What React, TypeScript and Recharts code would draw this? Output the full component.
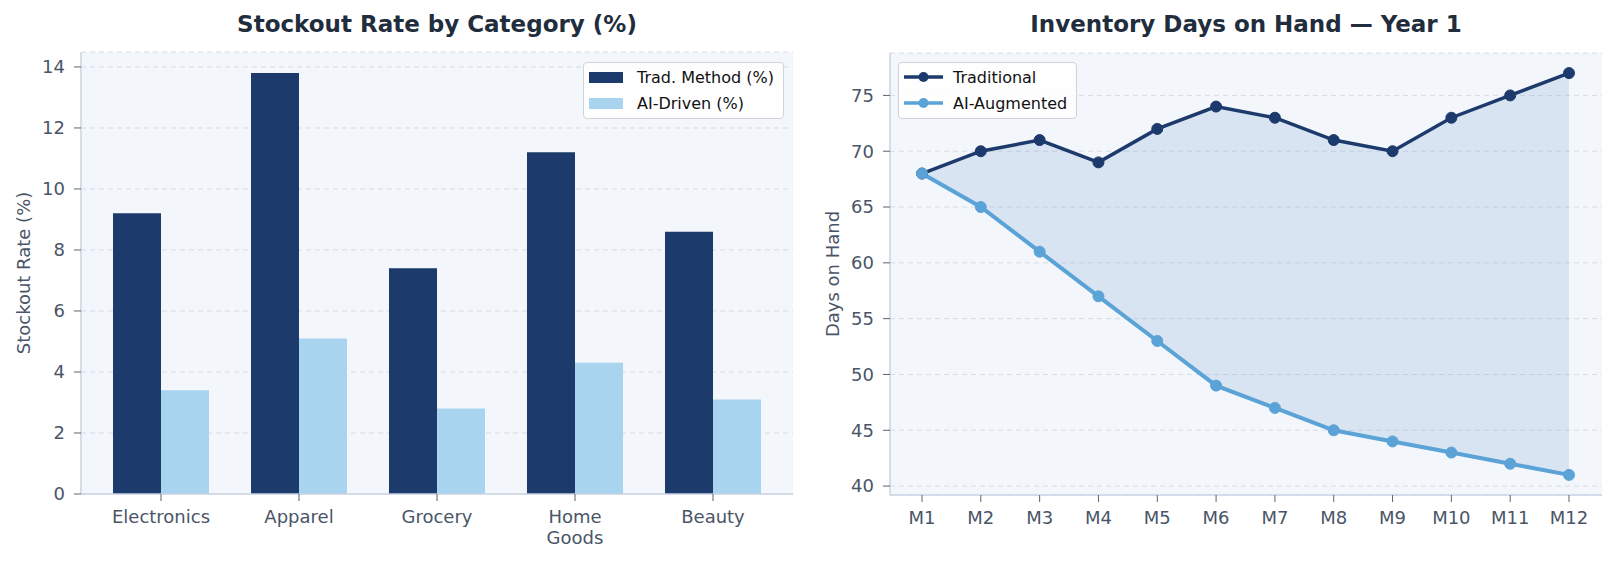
import React from "react";
import {
  Area,
  Bar,
  CartesianGrid,
  ComposedChart,
  Legend,
  Line,
  XAxis,
  YAxis,
} from "recharts";

// ---- data ----
const categories = ["Electronics", "Apparel", "Grocery", "Home\nGoods", "Beauty"];
const tradStockout = [9.2, 13.8, 7.4, 11.2, 8.6];
const aiStockout = [3.4, 5.1, 2.8, 4.3, 3.1];
const stockoutTicks = [0, 2, 4, 6, 8, 10, 12, 14];
const barSeriesNames = ["Trad. Method (%)", "AI-Driven (%)"];

const months = ["M1", "M2", "M3", "M4", "M5", "M6", "M7", "M8", "M9", "M10", "M11", "M12"];
const tradDays = [68, 70, 71, 69, 72, 74, 73, 71, 70, 73, 75, 77];
const aiDays = [68, 65, 61, 57, 53, 49, 47, 45, 44, 43, 42, 41];
const daysTicks = [40, 45, 50, 55, 60, 65, 70, 75];
const lineSeriesNames = ["Traditional", "AI-Augmented"];

const stockoutData = categories.map((category, i) => ({
  category,
  trad: tradStockout[i],
  ai: aiStockout[i],
}));

const daysData = months.map((month, i) => ({
  month,
  trad: tradDays[i],
  ai: aiDays[i],
  gap: [aiDays[i], tradDays[i]],
}));

const navy = "#1c3a6b";
const lightBar = "#a9d4ef";
const skyLine = "#5ba3d6";
const plotBg = "#f3f6fb";
const gridColor = "#d6dce6";
const spineColor = "#cbd3e3";
const tickText = "#4a5568";
const titleColor = "#1f2d3d";
const font = "'DejaVu Sans', sans-serif";

const tickStyle = { fontSize: 18, fill: tickText, fontFamily: font };

function CategoryTick(props: any) {
  const { x, y, payload } = props;
  const lines = String(payload.value).split("\n");
  return (
    <text x={x} y={y} textAnchor="middle" fill={tickText} fontSize={18} fontFamily={font}>
      {lines.map((line, i) => (
        <tspan key={i} x={x} dy={i === 0 ? "0.71em" : "1.17em"}>
          {line}
        </tspan>
      ))}
    </text>
  );
}

function yLabel(text: string) {
  return {
    content: (p: any) => {
      const vb = p.viewBox;
      const cx = vb.x + 18;
      const cy = vb.y + vb.height / 2;
      return (
        <text
          x={cx}
          y={cy}
          transform={`rotate(-90, ${cx}, ${cy})`}
          textAnchor="middle"
          dominantBaseline="central"
          fill={tickText}
          fontSize={18}
          fontFamily={font}
        >
          {text}
        </text>
      );
    },
  };
}

const legendBox: React.CSSProperties = {
  background: "rgba(255,255,255,0.85)",
  border: "1px solid #d0d4da",
  borderRadius: 4,
  padding: "1px 8px 2px 5px",
  fontFamily: font,
  fontSize: 16,
  color: "#111",
  boxSizing: "border-box",
};

// keep legend entries in the series order, not alphabetical
function ordered(payload: any[] | undefined, names: string[]) {
  return (payload || [])
    .filter((p: any) => p.type !== "none")
    .sort((a: any, b: any) => names.indexOf(a.value) - names.indexOf(b.value));
}

function BarLegend(props: any) {
  const items = ordered(props.payload, barSeriesNames);
  return (
    <div style={legendBox}>
      {items.map((p: any) => (
        <div key={p.value} style={{ display: "flex", alignItems: "center", height: 26 }}>
          <span style={{ width: 34, height: 11, background: p.color, marginRight: 14 }} />
          <span>{p.value}</span>
        </div>
      ))}
    </div>
  );
}

function LineLegend(props: any) {
  const items = ordered(props.payload, lineSeriesNames);
  return (
    <div style={legendBox}>
      {items.map((p: any) => (
        <div key={p.value} style={{ display: "flex", alignItems: "center", height: 26 }}>
          <svg width={39} height={12} style={{ marginRight: 10 }}>
            <line x1={0} y1={6} x2={39} y2={6} stroke={p.color} strokeWidth={3.5} />
            <circle cx={19.5} cy={6} r={5} fill={p.color} />
          </svg>
          <span>{p.value}</span>
        </div>
      ))}
    </div>
  );
}

const titleStyle: React.CSSProperties = {
  position: "absolute",
  top: 13,
  width: 712,
  textAlign: "center",
  fontFamily: font,
  fontWeight: "bold",
  fontSize: 23,
  lineHeight: "23px",
  color: titleColor,
};

export default function App() {
  return (
    <div
      style={{
        position: "fixed",
        left: 0,
        top: 0,
        width: 1617,
        height: 566,
        background: "#fff",
        overflow: "hidden",
      }}
    >
      <div style={{ ...titleStyle, left: 81 }}>Stockout Rate by Category (%)</div>
      <div style={{ ...titleStyle, left: 890 }}>Inventory Days on Hand — Year 1</div>

      <div style={{ position: "absolute", left: 0, top: 0 }}>
        <ComposedChart
          width={800}
          height={566}
          data={stockoutData}
          margin={{ top: 52, right: 7, bottom: 12, left: 5 }}
          barCategoryGap={21}
          barGap={0}
        >
          <CartesianGrid vertical={false} stroke={gridColor} strokeDasharray="5 4" fill={plotBg} />
          <XAxis
            dataKey="category"
            height={60}
            padding={{ left: 11, right: 11 }}
            tick={<CategoryTick />}
            tickSize={7}
            tickMargin={9}
            interval={0}
            axisLine={{ stroke: spineColor, strokeWidth: 1.5 }}
            tickLine={{ stroke: "#5a6472" }}
          />
          <YAxis
            width={76}
            domain={[0, 14.49]}
            ticks={stockoutTicks}
            tick={tickStyle}
            tickSize={7}
            tickMargin={9}
            axisLine={{ stroke: spineColor, strokeWidth: 1.5 }}
            tickLine={{ stroke: "#5a6472" }}
            label={yLabel("Stockout Rate (%)")}
          />
          <Legend
            layout="horizontal"
            verticalAlign="middle"
            align="center"
            content={<BarLegend />}
            wrapperStyle={{ left: 583, top: 62, width: 201, height: 57 }}
          />
          <Bar dataKey="trad" name={barSeriesNames[0]} fill={navy} isAnimationActive={false} />
          <Bar dataKey="ai" name={barSeriesNames[1]} fill={lightBar} isAnimationActive={false} />
        </ComposedChart>
      </div>

      <div style={{ position: "absolute", left: 810, top: 0 }}>
        <ComposedChart
          width={807}
          height={566}
          data={daysData}
          margin={{ top: 53, right: 15, bottom: 11, left: 4 }}
        >
          <CartesianGrid vertical={false} stroke={gridColor} strokeDasharray="5 4" fill={plotBg} />
          <XAxis
            dataKey="month"
            scale="point"
            height={60}
            padding={{ left: 32, right: 33 }}
            tick={tickStyle}
            tickSize={7}
            tickMargin={9}
            interval={0}
            axisLine={{ stroke: spineColor, strokeWidth: 1.5 }}
            tickLine={{ stroke: "#5a6472" }}
          />
          <YAxis
            width={76}
            domain={[39.2, 78.8]}
            ticks={daysTicks}
            tick={tickStyle}
            tickSize={7}
            tickMargin={9}
            axisLine={{ stroke: spineColor, strokeWidth: 1.5 }}
            tickLine={{ stroke: "#5a6472" }}
            label={yLabel("Days on Hand")}
          />
          <Legend
            layout="horizontal"
            verticalAlign="middle"
            align="center"
            content={<LineLegend />}
            wrapperStyle={{ left: 88, top: 62, width: 179, height: 57 }}
          />
          <Area
            dataKey="gap"
            type="linear"
            fill="#5b8fd0"
            fillOpacity={0.17}
            stroke="none"
            legendType="none"
            isAnimationActive={false}
          />
          <Line
            dataKey="trad"
            name={lineSeriesNames[0]}
            type="linear"
            stroke={navy}
            strokeWidth={3.5}
            dot={{ r: 5.5, fill: navy, stroke: navy, strokeWidth: 1 }}
            isAnimationActive={false}
          />
          <Line
            dataKey="ai"
            name={lineSeriesNames[1]}
            type="linear"
            stroke={skyLine}
            strokeWidth={4}
            dot={{ r: 5.5, fill: skyLine, stroke: skyLine, strokeWidth: 1 }}
            isAnimationActive={false}
          />
        </ComposedChart>
      </div>
    </div>
  );
}
